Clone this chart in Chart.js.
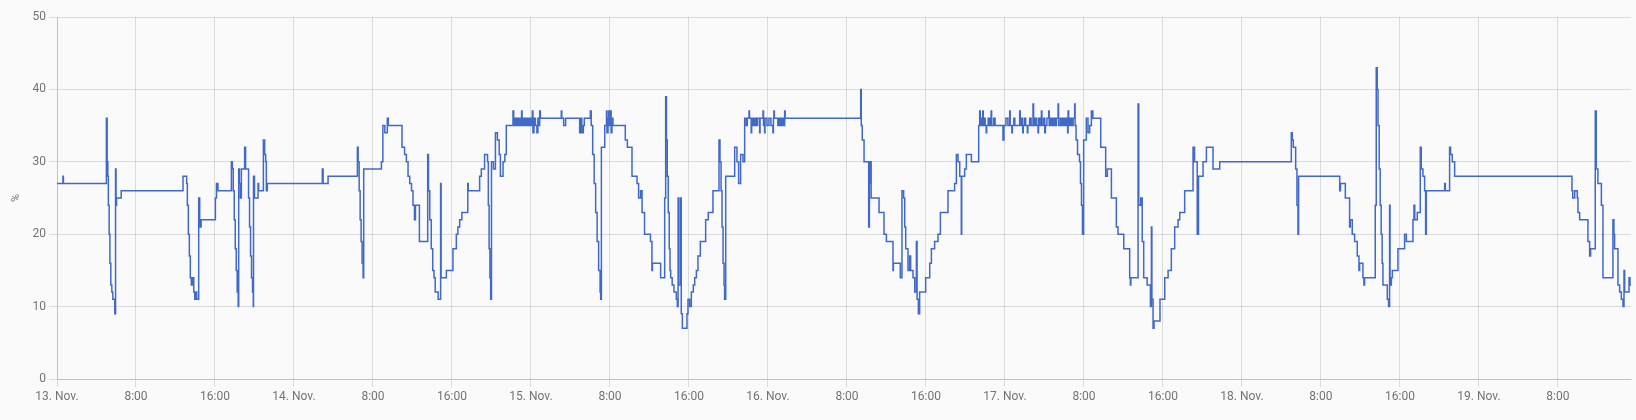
<!DOCTYPE html>
<html>
<head>
<meta charset="utf-8">
<script src="https://cdn.jsdelivr.net/npm/chart.js@4"></script>
<style>
  html, body { margin: 0; padding: 0; background: #fafafa; }
  canvas { display: block; }
</style>
</head>
<body>
<canvas id="historyChart" width="1636" height="420" style="width:1636px;height:420px"></canvas>
<script>
// hours since 13 Nov 00:00 at which the value changes (held until the next change)
const hours = [
  0.0, 0.6, 0.65, 5.0, 5.08, 5.15, 5.2, 5.28, 5.36, 5.45, 5.55, 5.65, 5.85, 5.93, 5.98, 6.03, 6.5,
  12.76, 13.13, 13.2, 13.3, 13.4, 13.5, 13.6, 13.75, 13.85, 13.95, 14.05, 14.15, 14.35, 14.45, 14.6,
  16.04, 16.15, 16.3, 17.66, 17.76, 17.85, 17.95, 18.05, 18.15, 18.25, 18.35, 18.4, 18.47, 18.57, 18.67,
  19.0, 19.1, 19.4, 19.5, 19.6, 19.7, 19.8, 19.88, 19.9, 20.0, 20.36, 20.42, 20.9, 21.03, 21.13, 21.2, 21.3,
  26.87, 26.95, 27.45, 30.42, 30.5, 30.6, 30.7, 30.8, 30.9, 31.0, 31.06,
  32.85, 33.0, 33.2, 33.45, 33.55, 34.94, 35.2, 35.38, 35.55, 35.72, 35.9, 36.05, 36.2, 36.3, 36.45, 36.7,
  37.54, 37.62, 37.75, 37.9, 38.05, 38.18, 38.3, 38.6, 38.85, 38.9,
  39.43, 40.1, 40.44, 40.6, 40.78, 41.0, 41.6, 41.65, 42.8, 42.97, 43.3, 43.6, 43.68, 43.76, 43.84, 43.92,
  44.0, 44.2, 44.4, 44.6, 44.78, 44.9, 45.17, 45.35, 45.5, 46.18, 46.25,
  46.4, 46.55, 46.7, 46.85, 47.0, 47.05, 47.1, 47.25, 47.4, 47.55, 47.7, 47.85, 48.0, 48.14, 48.2, 48.3,
  48.45, 48.6, 48.7, 48.85, 48.88, 48.95,
  51.07, 51.12, 51.31, 51.51, 52.93, 53.05, 53.15, 53.3, 53.4,
  54.01, 54.1, 54.25, 54.4, 54.55, 54.7, 54.85, 55.0, 55.06, 55.13, 55.47,
  55.65, 55.7, 55.8, 55.88, 55.95, 56.05, 56.12, 56.2, 56.3,
  57.55, 57.76, 58.23, 58.74, 58.9, 59.1, 59.25, 59.5, 60.1, 60.25, 60.3, 61.13, 61.54, 61.64,
  61.72, 61.8, 61.9, 62.0, 62.08, 62.15, 62.3, 62.48, 62.72, 62.82, 62.9, 62.98, 63.16, 63.22, 63.33,
  63.8, 63.9, 64.07, 64.24, 64.44, 64.58, 64.75, 64.91, 65.15, 65.69, 65.95, 66.43,
  67.04, 67.14, 67.25, 67.35, 67.45, 67.55, 67.61, 67.72, 68.63, 68.86, 69.03, 69.23, 69.47, 69.64,
  69.8, 69.9, 70.08, 70.13, 70.3, 70.35, 70.5, 70.65, 70.8, 70.95, 71.16, 71.2, 71.5, 71.55, 71.66, 71.7,
  71.9, 72.1, 72.3, 72.5, 72.55, 72.6, 72.65, 73.0, 73.15, 73.3, 73.45, 73.6, 73.69, 73.74,
  81.39, 81.45, 81.55, 81.73, 82.2, 82.27, 82.35, 82.45, 83.25, 83.75, 83.99, 84.66, 84.7, 85.4,
  85.57, 85.74, 85.85, 85.95, 86.18, 86.35, 86.45, 86.69, 86.86, 87.03, 87.1, 87.23, 87.36, 87.97,
  88.38, 88.55, 88.88, 89.22, 89.46, 90.23, 90.9, 91.08, 91.25, 91.42, 91.58, 91.62, 91.92, 92.09, 92.6,
  93.34, 93.44, 93.5, 93.6, 93.7, 93.75, 93.8, 93.9, 94.0, 94.1, 94.15, 94.3, 94.45, 94.6, 94.65, 94.85, 95.0,
  95.8, 95.9, 96.1, 96.3, 96.48, 96.53, 96.7, 96.75, 96.9, 97.0, 97.49, 97.55, 97.7, 97.8, 97.85, 98.0,
  98.1, 98.27, 98.32, 98.5, 98.65, 98.84, 98.9, 99.05, 99.2, 99.35, 99.4, 99.55, 99.69, 99.74, 99.9,
  100.03, 100.1, 100.25, 100.43, 100.48, 100.6, 100.75, 100.9, 101.05, 101.2, 101.38, 101.43, 101.6,
  101.75, 101.9, 102.05, 102.2, 102.35, 102.39, 102.45, 102.6, 102.75, 102.9, 103.06, 103.1,
  103.2, 103.35, 103.55, 103.65, 103.75, 103.85, 103.97, 104.24, 104.41, 104.58, 104.75, 104.9,
  105.7, 106.2, 106.37, 106.78, 107.28, 107.45, 108.03, 108.63, 108.7, 108.75, 109.48, 109.55, 109.75,
  109.9, 110.05, 110.4, 110.73, 110.83, 110.88, 111.0, 111.1, 111.7, 112.18, 112.52, 112.85, 113.19,
  113.53, 113.7, 114.2, 115.05, 115.2, 115.47, 115.6, 116.06, 116.4, 117.07, 117.75,
  125.0, 125.1, 125.2, 125.44, 125.57, 125.67, 125.74, 129.9, 129.98, 130.47, 130.9, 130.97, 131.17,
  131.41, 131.68, 131.85, 131.92, 132.25, 132.35, 132.42, 133.5, 133.6, 133.7, 133.78, 133.9, 134.0,
  134.1, 134.2, 134.28, 134.72, 134.85, 134.95, 135.0, 135.13, 135.23, 135.8, 136.47, 136.65, 137.32,
  137.42, 137.5, 137.76, 138.06, 138.16, 138.33, 138.5, 138.6, 138.67, 140.53, 140.6, 141.03, 141.13,
  141.3, 141.54, 153.42, 153.5, 153.7, 153.96, 154.03, 154.2, 154.27, 155.04, 155.21, 155.31, 155.78,
  155.88, 156.05, 156.4, 156.56, 157.57, 157.67, 157.74, 158.08, 158.25, 158.42, 158.59, 158.69,
  158.76, 159.2, 159.3, 159.4
];

// value in % after each change
const values = [
  27, 28, 27, 36, 30, 28, 24, 20, 16, 13, 12, 11, 9, 29, 24, 25, 26,
  28, 27, 24, 20, 17, 14, 13, 14, 12, 11, 12, 11, 25, 21, 22,
  25, 27, 26, 30, 29, 26, 22, 18, 15, 12, 10, 29, 27, 25, 29,
  32, 29, 25, 21, 17, 14, 12, 10, 28, 25, 27, 26, 33, 31, 30, 26, 27,
  29, 27, 28, 32, 30, 26, 22, 19, 16, 14, 29,
  30, 35, 34, 36, 35, 32, 31, 30, 28, 27, 26, 24, 22, 24, 24, 19,
  31, 26, 22, 18, 15, 14, 12, 11, 27, 14,
  15, 18, 20, 21, 22, 23, 27, 26, 28, 29, 31, 30, 24, 18, 14, 11,
  30, 29, 34, 33, 31, 28, 30, 31, 35, 37, 35,
  36, 35, 36, 35, 36, 37, 35, 36, 35, 36, 35, 36, 35, 37, 34, 36,
  35, 34, 36, 35, 37, 36,
  37, 36, 35, 36, 34, 36, 34, 35, 36,
  37, 35, 31, 27, 23, 19, 15, 12, 11, 32, 35,
  37, 34, 36, 37, 35, 37, 34, 36, 35,
  33, 32, 28, 27, 25, 26, 23, 20, 19, 15, 16, 14, 25, 39,
  33, 28, 23, 18, 15, 14, 13, 12, 11, 10, 25, 13, 25, 9, 7,
  9, 11, 10, 12, 13, 14, 15, 17, 19, 22, 23, 26,
  33, 30, 26, 21, 16, 13, 11, 28, 32, 30, 27, 31, 30, 36,
  35, 36, 37, 36, 34, 36, 35, 36, 35, 36, 34, 36, 37, 35, 34, 36,
  35, 36, 35, 34, 36, 37, 36, 35, 36, 35, 36, 35, 37, 36,
  40, 35, 33, 30, 21, 27, 30, 25, 23, 20, 19, 15, 16, 14,
  26, 25, 21, 18, 15, 17, 15, 14, 12, 19, 11, 9, 12, 14,
  16, 18, 19, 20, 23, 26, 27, 31, 30, 28, 20, 28, 29, 31, 30,
  35, 37, 35, 36, 35, 37, 35, 36, 35, 34, 35, 36, 35, 37, 35, 36, 35,
  33, 35, 36, 35, 37, 35, 34, 35, 36, 35, 37, 35, 36, 34, 35, 36,
  35, 34, 35, 36, 35, 38, 35, 36, 35, 34, 36, 35, 37, 35, 36,
  34, 35, 36, 37, 35, 36, 35, 36, 35, 36, 38, 35, 36,
  35, 36, 35, 36, 34, 37, 35, 36, 35, 36, 38, 35,
  33, 31, 30, 27, 24, 20, 33, 36, 34, 35, 37, 36,
  32, 28, 29, 25, 21, 20, 18, 14, 13, 14, 38, 24, 25,
  19, 14, 13, 10, 21, 11, 7, 8, 11, 14, 15, 18, 21,
  22, 23, 26, 32, 30, 20, 28, 30, 32, 29, 30,
  34, 33, 32, 29, 24, 20, 28, 26, 27, 25, 21, 22, 20,
  19, 17, 15, 16, 14, 13, 14, 24, 43, 40, 35, 29, 24,
  20, 16, 13, 11, 10, 24, 13, 14, 15, 18, 20, 19, 22,
  24, 22, 23, 32, 29, 28, 26, 20, 26, 27, 26, 32, 31,
  30, 28, 26, 25, 26, 25, 23, 22, 22, 19, 17, 18, 37,
  29, 27, 24, 14, 22, 20, 18, 13, 12, 11, 10, 15,
  12, 14, 13, 13
];

const dayLabels = ['13. Nov.', '14. Nov.', '15. Nov.', '16. Nov.', '17. Nov.', '18. Nov.', '19. Nov.'];
const yTicks = [0, 10, 20, 30, 40, 50];

const points = hours.map((h, i) => ({ x: h, y: values[i] }));

const tickColor = '#737373';
const gridColor = 'rgba(0,0,0,0.12)';

new Chart(document.getElementById('historyChart'), {
  type: 'line',
  data: {
    datasets: [{
      label: '%',
      data: points,
      borderColor: '#4169c8',
      backgroundColor: '#4169c8',
      borderWidth: 1.5,
      pointRadius: 0,
      stepped: true,
      fill: false
    }]
  },
  options: {
    responsive: false,
    animation: false,
    devicePixelRatio: 1,
    layout: { padding: { top: 17, right: 5, left: 0, bottom: 0 } },
    plugins: {
      legend: { display: false },
      tooltip: { enabled: false }
    },
    scales: {
      x: {
        type: 'linear',
        min: 0,
        max: 159.4,
        afterBuildTicks: (scale) => {
          scale.ticks = scale.ticks.filter(t => t.value % 8 === 0);
        },
        afterFit: (scale) => { scale.height = 41; },
        ticks: {
          stepSize: 8,
          autoSkip: false,
          maxRotation: 0,
          color: tickColor,
          font: { family: 'Roboto', size: 12 },
          callback: (v) => v % 24 === 0 ? dayLabels[v / 24] : (v % 24) + ':00'
        },
        grid: { color: gridColor },
        border: { color: gridColor }
      },
      y: {
        min: 0,
        max: 50,
        afterBuildTicks: (scale) => {
          scale.ticks = yTicks.map(v => ({ value: v }));
        },
        afterFit: (scale) => { scale.width = 57; },
        ticks: {
          color: tickColor,
          font: { family: 'Roboto', size: 12 }
        },
        title: {
          display: true,
          text: '%',
          color: tickColor,
          font: { family: 'Roboto', size: 11 },
          padding: { top: 10, bottom: 0 }
        },
        grid: { color: gridColor },
        border: { color: gridColor }
      }
    }
  }
});
</script>
</body>
</html>
